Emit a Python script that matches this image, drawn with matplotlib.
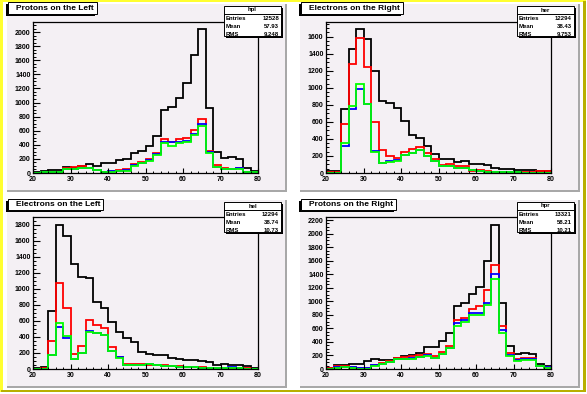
import matplotlib
matplotlib.use('Agg')
import matplotlib.pyplot as plt
from matplotlib.patches import Rectangle
from matplotlib.ticker import MultipleLocator, FormatStrFormatter
import numpy as np

# ---------------- data ----------------
bin_edges = np.arange(20, 82, 2)
x_ticks = [20, 30, 40, 50, 60, 70, 80]

titles = ["Protons on the Left", "Electrons on the Right",
          "Electrons on the Left", "Protons on the Right"]
stat_names = ["hpl", "her", "hel", "hpr"]
stat_entries = ["12528", "12294", "12294", "13321"]
stat_means = ["57.93", "38.43", "38.74", "58.21"]
stat_rms = ["9.248", "9.753", "10.73", "10.21"]

# Protons on the Left
pl_all = [10, 25, 40, 40, 85, 65, 105, 125, 105, 140, 140, 185, 200, 285, 313,
          390, 530, 900, 940, 1066, 1280, 1678, 2047, 924, 300, 213, 227, 200, 71, 28]
pl_red = [5, 10, 15, 15, 70, 80, 95, 70, 45, 20, 24, 38, 57, 133, 156,
          200, 284, 480, 440, 485, 500, 610, 770, 313, 110, 65, 60, 65, 20, 10]
pl_blue = [4, 8, 12, 12, 58, 60, 70, 66, 47, 20, 22, 35, 45, 120, 148,
           185, 270, 440, 435, 440, 450, 560, 700, 292, 90, 60, 55, 65, 15, 8]
pl_green = [3, 8, 10, 10, 55, 55, 65, 65, 45, 18, 20, 30, 25, 105, 140,
            175, 256, 427, 380, 427, 436, 545, 673, 284, 80, 60, 50, 50, 15, 8]

# Electrons on the Right
er_all = [20, 27, 757, 1459, 1694, 1576, 1192, 851, 824, 765, 608, 443, 412, 322, 227,
          169, 169, 133, 141, 110, 110, 90, 63, 47, 47, 39, 39, 31, 24, 24]
er_red = [10, 10, 576, 1282, 1588, 1247, 600, 270, 200, 173, 243, 282, 306, 235, 165,
          94, 106, 78, 78, 20, 35, 20, 10, 10, 10, 8, 8, 10, 20, 20]
er_blue = [0, 0, 321, 757, 988, 812, 255, 118, 137, 153, 215, 235, 275, 196, 141,
           86, 86, 59, 59, 31, 20, 12, 8, 8, 6, 6, 5, 5, 5, 5]
er_green = [0, 0, 353, 788, 1047, 812, 247, 118, 129, 141, 215, 235, 267, 196, 141,
            86, 86, 59, 59, 31, 20, 12, 8, 8, 6, 6, 5, 5, 5, 5]

# Electrons on the Left
el_all = [17, 21, 720, 1800, 1662, 1310, 1147, 1134, 833, 766, 590, 456, 381, 343, 213,
          193, 180, 180, 142, 130, 117, 117, 100, 84, 54, 67, 54, 54, 33, 17]
el_red = [5, 10, 347, 1072, 766, 193, 285, 607, 548, 506, 280, 155, 59, 67, 67,
          46, 54, 46, 38, 42, 29, 29, 21, 15, 15, 12, 12, 10, 8, 5]
el_blue = [3, 5, 180, 519, 385, 121, 205, 469, 448, 419, 230, 147, 50, 54, 54,
           60, 50, 42, 33, 25, 25, 20, 15, 12, 12, 10, 25, 10, 6, 3]
el_green = [3, 5, 180, 573, 406, 121, 205, 460, 448, 419, 230, 134, 46, 54, 54,
            67, 50, 42, 33, 25, 25, 20, 15, 12, 12, 10, 10, 10, 6, 3]

# Protons on the Right
pr_all = [15, 55, 55, 69, 79, 114, 149, 134, 134, 168, 198, 213, 243, 332, 332,
          411, 530, 927, 971, 1105, 1209, 1596, 2131, 971, 347, 228, 243, 228, 79, 50]
pr_red = [10, 40, 50, 30, 10, 10, 60, 90, 120, 165, 175, 185, 200, 225, 185,
          245, 345, 723, 748, 882, 927, 1165, 1536, 629, 243, 154, 168, 168, 50, 35]
pr_blue = [5, 25, 35, 25, 8, 8, 55, 80, 105, 155, 155, 165, 180, 213, 168,
           223, 312, 679, 718, 827, 827, 971, 1407, 575, 213, 134, 154, 144, 50, 25]
pr_green = [3, 10, 30, 15, 5, 5, 50, 75, 100, 145, 145, 155, 175, 190, 165,
            215, 312, 640, 694, 793, 793, 946, 1328, 535, 193, 124, 139, 139, 40, 20]

series = [
    (pl_all, pl_red, pl_blue, pl_green),
    (er_all, er_red, er_blue, er_green),
    (el_all, el_red, el_blue, el_green),
    (pr_all, pr_red, pr_blue, pr_green),
]
hist_colors = ["#000000", "#ff0000", "#0000ff", "#00ff00"]

# ---------------- layout ----------------
W, H = 587, 394
fig = plt.figure(figsize=(W / 100, H / 100), dpi=100)
fig.patch.set_facecolor("white")

PAD_COLOR = "#f4f0f4"
FONT = ["Liberation Sans", "DejaVu Sans"]


def fx(x):
    return x / W


def fy(y):
    return 1 - y / H


def frect(x0, y0, x1, y1, z=1, **kw):
    r = Rectangle((fx(x0), fy(y1)), (x1 - x0) / W, (y1 - y0) / H,
                  transform=fig.transFigure, zorder=z, **kw)
    fig.add_artist(r)
    return r


# canvas border
frect(0, 0, 586, 392, z=-30, facecolor="white", edgecolor="none")
frect(0, 0, 586, 2.2, z=-29, facecolor="#ffff30", edgecolor="none")
frect(0, 0, 2.5, 392, z=-29, facecolor="#ffff30", edgecolor="none")
frect(583, 1, 586, 392, z=-28, facecolor="#b8b000", edgecolor="none")
frect(1, 389.5, 586, 392, z=-28, facecolor="#b8b000", edgecolor="none")

pads = [(6, 3, 287, 192), (299, 3, 580, 192), (6, 199, 287, 388), (299, 199, 580, 388)]

for i, (x0, y0, x1, y1) in enumerate(pads):
    # pad with bevel
    frect(x0, y0, x1, y1, z=-20, facecolor="white", edgecolor="none")
    frect(x0 + 1, y0 + 1, x1, y1, z=-19, facecolor="#a8a8a8", edgecolor="none")
    frect(x0 + 1, y0 + 1, x1 - 2, y1 - 2, z=-18, facecolor=PAD_COLOR, edgecolor="none")

    # frame
    fl, ft, fr, fb = x0 + 27, y0 + 18.5, x1 - 29, y1 - 19
    ax = fig.add_axes([fx(fl), fy(fb), (fr - fl) / W, (fb - ft) / H])
    ax.set_facecolor("none")
    allv, red, blue, green = series[i]
    for vals, c in zip((allv, red, blue, green), hist_colors):
        ax.stairs(vals, bin_edges, color=c, lw=1.3, baseline=0)
    ax.set_xlim(20, 80)
    ax.set_ylim(0, 1.05 * max(allv))
    ax.set_xticks(x_ticks)
    ax.xaxis.set_minor_locator(MultipleLocator(2))
    ax.yaxis.set_major_locator(MultipleLocator(200))
    ax.yaxis.set_minor_locator(MultipleLocator(50))
    ax.yaxis.set_major_formatter(FormatStrFormatter("%d"))
    for s in ax.spines.values():
        s.set_linewidth(0.9)
        s.set_color("black")
    ax.tick_params(axis="y", which="major", direction="in", length=4.7, width=0.8, pad=1.8)
    ax.tick_params(axis="y", which="minor", direction="in", length=2.4, width=0.7)
    ax.tick_params(axis="x", which="major", direction="in", length=3.3, width=0.8, pad=2.2)
    ax.tick_params(axis="x", which="minor", direction="in", length=1.7, width=0.7)
    ax.tick_params(right=False, top=False)
    for lab in ax.get_xticklabels() + ax.get_yticklabels():
        lab.set_fontfamily(FONT)
        lab.set_fontweight("bold")
        lab.set_fontsize(5.0)

    # title box
    t = fig.text(fx(x0 + 10), fy(y0 + 5.5), titles[i], fontsize=6.0, fontweight="bold",
                 family=FONT, ha="left", va="center", zorder=12)
    fig.canvas.draw()
    bb = t.get_window_extent()
    right_px = bb.x1 + 3
    frect(x0 + 2, y0 - 0.5, right_px, y0 + 10.5, z=10, facecolor="white",
          edgecolor="black", lw=0.7)
    frect(x0, y0 + 1.5, right_px - 2, y0 + 12.5, z=9, facecolor="black", edgecolor="none")

    # stats box
    sx0, sx1 = x1 - 63, x1 - 6
    sy0, sy1 = y0 + 3, y0 + 33
    frect(sx0 + 2, sy0 + 2, sx1 + 2, sy1 + 2, z=9, facecolor="black", edgecolor="none")
    frect(sx0, sy0, sx1, sy1, z=10, facecolor="white", edgecolor="black", lw=0.7)
    fig.add_artist(plt.Line2D([fx(sx0), fx(sx1)], [fy(sy0 + 8), fy(sy0 + 8)],
                              transform=fig.transFigure, color="black", lw=0.7, zorder=11))
    fig.text(fx((sx0 + sx1) / 2), fy(sy0 + 4), stat_names[i], fontsize=4.3,
             fontweight="bold", family=FONT, ha="center", va="center", zorder=12)
    rows = [("Entries", stat_entries[i]), ("Mean", stat_means[i]), ("RMS", stat_rms[i])]
    for k, (name, val) in enumerate(rows):
        yy = sy0 + 12.5 + 8 * k
        fig.text(fx(sx0 + 2), fy(yy), name, fontsize=4.3, fontweight="bold",
                 family=FONT, ha="left", va="center", zorder=12)
        fig.text(fx(sx1 - 2), fy(yy), val, fontsize=4.3, fontweight="bold",
                 family=FONT, ha="right", va="center", zorder=12)

fig.savefig("out.png", dpi=100, facecolor="white")
